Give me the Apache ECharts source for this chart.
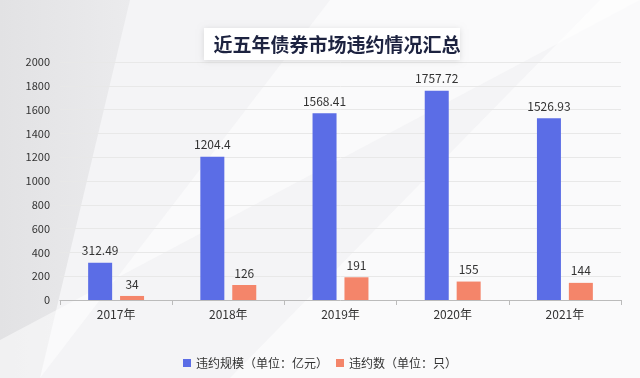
<!DOCTYPE html>
<html><head><meta charset="utf-8">
<script src="https://cdn.jsdelivr.net/npm/echarts@6/dist/echarts.min.js"></script>
<style>html,body{margin:0;padding:0;}#c{width:640px;height:378px;}</style>
</head><body><div id="c"></div>
<script>
const categories = ['2017年','2018年','2019年','2020年','2021年'];
const scaleValues = [312.49, 1204.4, 1568.41, 1757.72, 1526.93];
const countValues = [34, 126, 191, 155, 144];
const seriesNames = ['违约规模（单位：亿元）','违约数（单位：只）'];
const titleText = '近五年债券市场违约情况汇总';

const chart = echarts.init(document.getElementById('c'));
const font = '"Noto Sans CJK SC", "Noto Sans", sans-serif';
chart.setOption({
  backgroundColor: '#f4f4f6',
  graphic: [
    {type:'polygon', z:-10, silent:true, shape:{points:[[0,0],[130,0],[40,378],[0,378]]},
     style:{fill: new echarts.graphic.LinearGradient(0,0,1,0,[{offset:0,color:'#e2e2e4'},{offset:1,color:'#ebebed'}])}},
    {type:'polygon', z:-10, silent:true, shape:{points:[[330,0],[640,0],[640,0],[0,340],[0,378],[40,378]]}, style:{fill:'rgba(255,255,255,0.5)'}},
    {type:'polygon', z:-10, silent:true, shape:{points:[[600,0],[640,0],[640,378],[230,378]]}, style:{fill:'rgba(255,255,255,0.55)'}},
    {type:'rect', z:5, silent:true, shape:{x:204,y:28,width:256,height:32}, style:{fill:'#ffffff', shadowBlur:6, shadowColor:'rgba(0,0,0,0.12)', shadowOffsetY:1}}
  ],
  title: {
    text: titleText, left: 332, top: 30, textAlign:'center',
    textStyle: {fontFamily: font, fontSize: 19, fontWeight: 'bold', color: '#1d2340'},
    z: 10
  },
  legend: {
    data: seriesNames, bottom: 4, left: 'center', itemWidth: 8, itemHeight: 8, itemGap: 8,
    icon: 'rect',
    textStyle: {fontFamily: font, fontSize: 12, color: '#333'}
  },
  grid: {left: 60, right: 19, top: 62, bottom: 78},
  xAxis: {
    type: 'category', data: categories,
    axisLine: {lineStyle: {color: '#bbbbbb'}},
    axisTick: {show: true, lineStyle: {color: '#bbbbbb'}},
    axisLabel: {fontFamily: font, fontSize: 12, color: '#333', margin: 8}
  },
  yAxis: {
    type: 'value', min: 0, max: 2000, interval: 200,
    axisLine: {show: false}, axisTick: {show: false},
    splitLine: {lineStyle: {color: '#e8e8e8'}},
    axisLabel: {fontFamily: font, fontSize: 11, color: '#333', margin: 10, formatter: v => String(v)}
  },
  series: [
    {name: seriesNames[0], type: 'bar', data: scaleValues, barWidth: 24, barGap: '33%',
     itemStyle: {color: '#5b6de6'},
     label: {show: true, position: 'top', distance: 6, fontFamily: font, fontSize: 12, color: '#333'}},
    {name: seriesNames[1], type: 'bar', data: countValues, barWidth: 24,
     itemStyle: {color: '#f4856a'},
     label: {show: true, position: 'top', distance: 6, fontFamily: font, fontSize: 12, color: '#333'}}
  ]
});
</script></body></html>
